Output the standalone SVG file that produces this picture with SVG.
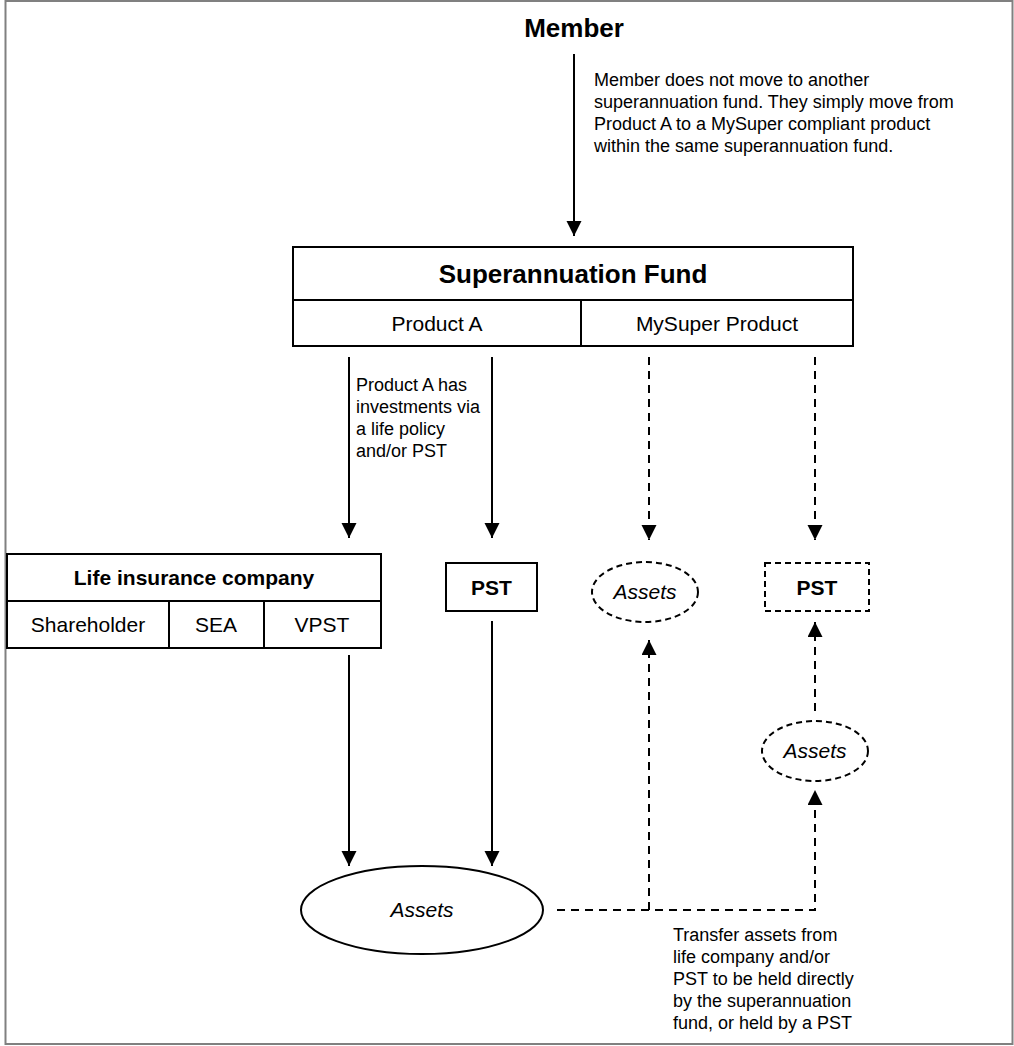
<svg xmlns="http://www.w3.org/2000/svg" width="1014" height="1046" viewBox="0 0 1014 1046">
<defs>
<marker id="ah" markerUnits="userSpaceOnUse" markerWidth="16" markerHeight="16" refX="15" refY="7.5" orient="auto"><path d="M0,0 L15,7.5 L0,15 z" fill="#000"/></marker>
<style>
text{font-family:"Liberation Sans",Arial,sans-serif;fill:#000}
.b{font-weight:bold}
.n{font-size:18px}
.c{text-anchor:middle}
.box{fill:#fff;stroke:#000;stroke-width:2}
.dbox{fill:#fff;stroke:#000;stroke-width:2;stroke-dasharray:6 4}
.solid{fill:none;stroke:#000;stroke-width:2}
.dash{fill:none;stroke:#000;stroke-width:2;stroke-dasharray:8 6}
.it{font-style:italic;font-size:21px}
</style>
</defs>
<rect x="0" y="0" width="1014" height="1046" fill="#fff"/>
<rect x="5.5" y="1" width="1007" height="1043" fill="none" stroke="#808080" stroke-width="2"/>

<g id="connectors">
<line class="solid" x1="574" y1="54" x2="574" y2="236" marker-end="url(#ah)"/>
<line class="solid" x1="349" y1="357" x2="349" y2="538" marker-end="url(#ah)"/>
<line class="solid" x1="492" y1="357" x2="492" y2="538" marker-end="url(#ah)"/>
<line class="dash" x1="649" y1="357" x2="649" y2="540" marker-end="url(#ah)"/>
<line class="dash" x1="815" y1="357" x2="815" y2="540" marker-end="url(#ah)"/>
<line class="solid" x1="349" y1="655" x2="349" y2="866" marker-end="url(#ah)"/>
<line class="solid" x1="492" y1="621" x2="492" y2="866" marker-end="url(#ah)"/>
<path class="dash" d="M557,910 H815 V790" marker-end="url(#ah)"/>
<line class="dash" x1="649" y1="910" x2="649" y2="640" marker-end="url(#ah)"/>
<line class="dash" x1="815" y1="711" x2="815" y2="622" marker-end="url(#ah)"/>
</g>

<g id="member">
<text class="b c" x="574" y="37" font-size="26">Member</text>
</g>
<g id="note-member">
<text class="n" x="594" y="86">Member does not move to another</text>
<text class="n" x="594" y="108">superannuation fund. They simply move from</text>
<text class="n" x="594" y="130">Product A to a MySuper compliant product</text>
<text class="n" x="594" y="152">within the same superannuation fund.</text>
</g>

<g id="super-fund">
<rect class="box" x="293" y="247" width="560" height="99"/>
<line class="solid" x1="293" y1="300" x2="853" y2="300"/>
<line class="solid" x1="581" y1="300" x2="581" y2="346"/>
<text class="b c" x="573" y="283" font-size="26">Superannuation Fund</text>
<text class="c" x="437" y="331" font-size="21">Product A</text>
<text class="c" x="717" y="331" font-size="21">MySuper Product</text>
</g>

<g id="note-producta">
<text class="n" x="356" y="391">Product A has</text>
<text class="n" x="356" y="413">investments via</text>
<text class="n" x="356" y="435">a life policy</text>
<text class="n" x="356" y="457">and/or PST</text>
</g>

<g id="life-insurance">
<rect class="box" x="7" y="554" width="374" height="94"/>
<line class="solid" x1="7" y1="601" x2="381" y2="601"/>
<line class="solid" x1="169" y1="601" x2="169" y2="648"/>
<line class="solid" x1="264" y1="601" x2="264" y2="648"/>
<text class="b c" x="194" y="585" font-size="21">Life insurance company</text>
<text class="c" x="88" y="632" font-size="21">Shareholder</text>
<text class="c" x="216" y="632" font-size="21">SEA</text>
<text class="c" x="322" y="632" font-size="21">VPST</text>
</g>

<g id="pst1">
<rect class="box" x="446" y="563" width="91" height="48"/>
<text class="b c" x="491.5" y="595" font-size="21">PST</text>
</g>

<g id="assets-dashed-1">
<ellipse class="dbox" cx="645" cy="592" rx="53" ry="30"/>
<text class="it c" x="645" y="599">Assets</text>
</g>

<g id="pst2">
<rect class="dbox" x="765" y="563" width="104" height="48"/>
<text class="b c" x="817" y="595" font-size="21">PST</text>
</g>

<g id="assets-dashed-2">
<ellipse class="dbox" cx="815" cy="751" rx="53" ry="30"/>
<text class="it c" x="815" y="758">Assets</text>
</g>

<g id="assets-main">
<ellipse class="box" cx="422" cy="910" rx="121" ry="44"/>
<text class="it c" x="422" y="917">Assets</text>
</g>

<g id="note-transfer">
<text class="n" x="673" y="941">Transfer assets from</text>
<text class="n" x="673" y="963">life company and/or</text>
<text class="n" x="673" y="985">PST to be held directly</text>
<text class="n" x="673" y="1007">by the superannuation</text>
<text class="n" x="673" y="1029">fund, or held by a PST</text>
</g>
</svg>
